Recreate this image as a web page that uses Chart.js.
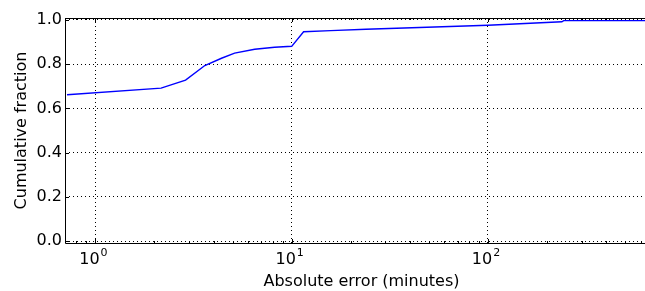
<!DOCTYPE html>
<html>
<head>
<meta charset="utf-8">
<script src="https://cdn.jsdelivr.net/npm/chart.js@4"></script>
<style>
  html, body { margin: 0; padding: 0; background: #fff; overflow: hidden; }
  canvas { display: block; }
</style>
</head>
<body>
<!-- the original figure is cut off on the right, so the canvas is a bit wider than the window -->
<canvas id="cdfChart" width="658" height="291"></canvas>
<script>
// absolute error (minutes) and cumulative fraction
const errorMinutes = [0.717, 2.16, 2.88, 3.61, 4.39, 5.12, 6.48, 8.18, 10.0, 11.5, 15.8, 23.9, 100, 238, 243, 735];
const cumFraction  = [0.662, 0.692, 0.728, 0.794, 0.827, 0.850, 0.868, 0.877, 0.881, 0.947, 0.952, 0.958, 0.976, 0.992, 0.997, 0.997];

const xTicks = [1, 10, 100];
const xTickBase = '10';
const xTickExp = ['0', '1', '2'];
const yTicks = [0, 0.2, 0.4, 0.6, 0.8, 1.0];

const FONT = "'DejaVu Sans', sans-serif";

// matplotlib style frame, inward ticks and 10^n labels
const framePlugin = {
    id: 'frame',
    afterDraw(chart) {
        const {ctx, chartArea: a, scales} = chart;
        ctx.save();
        ctx.strokeStyle = '#000';
        ctx.lineWidth = 1;
        ctx.beginPath();
        // major x ticks
        xTicks.forEach(v => {
            const px = Math.round(scales.x.getPixelForValue(v)) + 0.5;
            ctx.moveTo(px, a.bottom); ctx.lineTo(px, a.bottom - 4);
            ctx.moveTo(px, a.top); ctx.lineTo(px, a.top + 4);
        });
        // minor x ticks
        for (let d = 0.1; d < 1000; d *= 10) {
            for (let m = 2; m <= 9; m++) {
                const v = d * m;
                if (v < scales.x.min || v > scales.x.max) continue;
                const px = Math.round(scales.x.getPixelForValue(v)) + 0.5;
                ctx.moveTo(px, a.bottom); ctx.lineTo(px, a.bottom - 2);
                ctx.moveTo(px, a.top); ctx.lineTo(px, a.top + 2);
            }
        }
        yTicks.forEach(v => {
            const py = Math.round(scales.y.getPixelForValue(v)) + 0.5;
            ctx.moveTo(a.left, py); ctx.lineTo(a.left + 4, py);
            ctx.moveTo(a.right, py); ctx.lineTo(a.right - 4, py);
        });
        ctx.stroke();
        ctx.beginPath();
        ctx.rect(a.left + 0.5, a.top + 0.5, a.right - a.left, a.bottom - a.top);
        ctx.stroke();

        // x tick labels with superscript exponent
        ctx.fillStyle = '#000';
        ctx.textBaseline = 'alphabetic';
        ctx.textAlign = 'left';
        const baseY = a.bottom + 21;
        xTicks.forEach((v, i) => {
            const px = scales.x.getPixelForValue(v);
            ctx.font = '16px ' + FONT;
            const wBase = ctx.measureText(xTickBase).width;
            ctx.font = '11px ' + FONT;
            const wExp = ctx.measureText(xTickExp[i]).width;
            const x0 = px - 2 - (wBase + 1 + wExp) / 2;
            ctx.font = '16px ' + FONT;
            ctx.fillText(xTickBase, x0, baseY);
            ctx.font = '11px ' + FONT;
            ctx.fillText(xTickExp[i], x0 + wBase + 1, baseY - 8);
        });
        ctx.restore();
    }
};

const cdfCtx = document.getElementById('cdfChart').getContext('2d');
const cdfChart = new Chart(cdfCtx, {
    type: 'line',
    data: {
        datasets: [{
            data: errorMinutes.map((x, i) => ({x: x, y: cumFraction[i]})),
            borderColor: '#0000ff',
            borderWidth: 1.4,
            pointRadius: 0,
            tension: 0,
            fill: false
        }]
    },
    options: {
        responsive: false,
        devicePixelRatio: 1,
        animation: false,
        layout: {padding: {left: 0, right: 0, top: 18, bottom: 0}},
        plugins: {legend: {display: false}, tooltip: {enabled: false}},
        scales: {
            x: {
                type: 'logarithmic',
                min: 0.717,
                max: 735,
                afterBuildTicks: axis => { axis.ticks = xTicks.map(v => ({value: v})); },
                afterFit: axis => { axis.height = 48; },
                ticks: {display: false},
                grid: {
                    color: '#000',
                    lineWidth: 1,
                    drawTicks: false
                },
                border: {display: false, dash: [1, 3]},
                title: {
                    display: true,
                    text: 'Absolute error (minutes)',
                    color: '#000',
                    font: {family: FONT, size: 16},
                    padding: {top: 0, bottom: 0}
                }
            },
            y: {
                min: -0.008,
                max: 1.009,
                afterBuildTicks: axis => { axis.ticks = yTicks.map(v => ({value: v})); },
                afterFit: axis => { axis.width = 65; },
                ticks: {
                    color: '#000',
                    font: {family: FONT, size: 16},
                    padding: 3,
                    callback: v => v.toFixed(1)
                },
                grid: {
                    color: '#000',
                    lineWidth: 1,
                    drawTicks: false
                },
                border: {display: false, dash: [1, 3]},
                title: {
                    display: true,
                    text: 'Cumulative fraction',
                    color: '#000',
                    font: {family: FONT, size: 16},
                    padding: {top: 12, bottom: 0}
                }
            }
        }
    },
    plugins: [framePlugin]
});
</script>
</body>
</html>
